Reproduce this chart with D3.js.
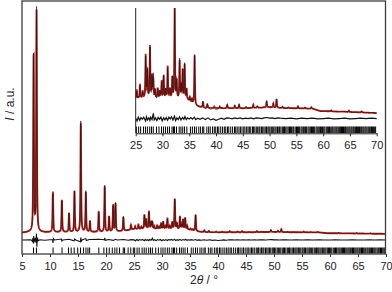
<!DOCTYPE html>
<html>
<head>
<meta charset="utf-8">
<script src="https://cdn.jsdelivr.net/npm/d3@7.9.0/dist/d3.min.js"></script>
<style>
  html, body { margin: 0; padding: 0; background: #fff; }
  svg { display: block; font-family: "Liberation Sans", Arial, sans-serif; }
</style>
</head>
<body>
<svg id="chart" width="392" height="292"></svg>
<script>
// reflections of the fitted pattern: 2θ position and net height above background (a.u.)
const peakPos = [7.07, 7.6, 10.52, 12.12, 13.4, 14.37, 15.5, 16.4, 17.14, 18.7, 19.77, 20.55, 21.27, 21.7, 23.1, 24.46,
  25.2, 25.79, 26.3, 26.86, 27.17, 27.67, 28.04, 28.29, 28.6, 29.1, 29.5, 29.85, 30.22, 30.6, 30.97, 31.4, 31.84,
  32.28, 32.65, 33.2, 33.5, 33.77, 34.14, 34.5, 35.1, 35.5, 36.0,
  37.57, 38.37, 39.68, 40.7, 42.1, 43.5, 44.3, 45.6, 46.96, 47.7, 49.45, 50.7, 51.3, 52.4, 53.5, 55.3, 56.6, 57.8,
  61.5, 64.8, 67.2];
const peakHeight = [79, 98, 18, 14.3, 8.3, 18.2, 48.2, 17.6, 4.8, 9.0, 20.2, 6.6, 11.7, 12.4, 6.3, 2.0,
  1.3, 2.0, 1.0, 6.3, 4.1, 7.6, 3.2, 2.7, 1.2, 1.4, 1.0, 2.4, 3.2, 1.2, 4.6, 1.3, 3.0,
  13.2, 2.5, 5.5, 2.0, 4.1, 5.0, 1.5, 0.6, 0.5, 7.2,
  0.8, 0.55, 0.25, 0.25, 0.45, 0.35, 0.5, 0.15, 0.5, 0.2, 0.85, 0.6, 1.25, 0.2, 0.1, 0.3, 0.15, 0.2,
  0.15, 0.2, 0.15];

// background level read at a few angles
const bgAngle = [5, 6.5, 9, 20, 23, 25, 27, 31, 34.5, 36.5, 38, 45, 50, 52, 58, 59.5, 64, 70];
const bgLevel = [1.0, 1.3, 1.2, 1.3, 1.7, 2.6, 2.7, 2.7, 2.5, 1.5, 1.25, 1.2, 1.35, 1.25, 1.15, 0.8, 0.7, 0.5];

// difference curve (obs - calc)
const diffPoints = [
  [5, 0], [6.6, 0.1], [6.85, -0.6], [6.95, 0.9], [7.03, -1.6], [7.1, 1.7], [7.2, -0.5], [7.35, 0.4],
  [7.5, -1.2], [7.58, 2.8], [7.66, -3.0], [7.75, 1.0], [7.9, -0.3], [8.2, 0.1], [9, -0.1],
  [10.45, 0.2], [10.53, -1.3], [10.6, 0.6], [10.8, 0], [12.05, 0.4], [12.13, -0.5], [12.3, 0],
  [13.4, 0.3], [14.3, -0.4], [14.4, 0.4], [14.6, 0], [15.43, -0.8], [15.5, 1.1], [15.58, -0.6],
  [15.8, 0.1], [16.4, 0.6], [16.5, -0.3], [17, 0.2], [18.7, 0.3], [19.7, 0.1], [19.78, 0.9],
  [19.85, -0.2], [20.5, 0.2], [21.3, -0.2], [21.7, 0.3], [22, 0], [23.1, 0.2], [24, -0.1], [24.5, 0.15],
  [25.0, 0.05], [25.25, -0.35], [25.5, 0.2], [25.75, -0.25], [26.0, 0.15], [26.25, -0.1], [26.5, 0.2],
  [26.85, -0.35], [27.0, 0.25], [27.2, -0.2], [27.45, 0.1], [27.65, -0.3], [27.8, 0.2], [28.05, -0.15],
  [28.3, 0.75], [28.45, -0.2], [28.7, 0.1], [28.95, -0.3], [29.2, 0.15], [29.45, -0.1], [29.7, 0.2],
  [29.95, -0.35], [30.2, 0.1], [30.45, -0.2], [30.7, 0.15], [30.95, -0.25], [31.2, 0.2], [31.45, -0.05],
  [31.7, 0.25], [31.95, -0.2], [32.25, 0.35], [32.45, -0.3], [32.7, 0.1], [32.95, -0.15], [33.2, 0.25],
  [33.45, -0.2], [33.75, 0.15], [34.0, -0.1], [34.2, 0.3], [34.45, -0.15], [34.7, 0.1], [35.0, -0.05],
  [35.3, 0.15], [35.6, -0.1], [35.95, 0.2], [36.2, -0.15], [36.6, 0.05], [37.0, -0.1], [37.5, 0.1],
  [38.0, -0.15], [38.5, 0.1], [39.0, -0.2], [39.5, -0.05], [40.0, -0.25], [40.5, -0.1], [41.0, 0.05],
  [41.5, -0.1], [42.0, 0.1], [42.5, 0.05], [43.0, -0.05], [43.5, 0.1], [44.0, 0.0], [44.5, 0.1],
  [45.0, -0.05], [45.5, 0.05], [46.0, 0.0], [46.5, 0.1], [47.0, -0.05], [47.5, 0.1], [48.0, 0.05],
  [48.5, 0.0], [49.0, 0.1], [49.5, 0.15], [50.0, 0.05], [50.5, 0.1], [51.0, 0.0], [51.5, 0.1],
  [52.0, 0.05], [53.0, 0.0], [54.0, 0.05], [55.0, -0.05], [56.0, 0.05], [57.0, 0.0], [58.0, 0.05],
  [59.0, -0.05], [60.0, 0.0], [61.0, 0.05], [62.0, -0.05], [63.0, 0.0], [64.0, 0.05], [65.0, -0.05],
  [66.0, 0.0], [67.0, 0.05], [68.0, 0.0], [69.0, 0.05], [70.0, 0.0]
];

// allowed reflection positions (tick marks under the pattern)
const reflections = [7.05, 7.58, 10.55, 12.15, 13.3, 13.78, 14.32, 14.95, 15.45, 15.98, 16.42, 16.78, 17.08,
  18.72, 19.62, 20.12, 20.58, 21.12, 21.58, 21.95, 22.42, 23.08, 23.32, 23.95, 24.42, 24.88, 25.12, 25.55,
  25.92, 26.45, 26.82, 27.18, 27.62, 27.95, 28.28, 28.88, 29.35, 29.82, 30.18, 30.55, 30.95, 31.3, 31.78,
  32.05, 32.25, 32.62, 33.12, 33.45, 33.78, 34.12, 34.55, 35.22, 35.58, 35.98, 36.32, 36.78, 37.12, 37.5,
  37.72, 38.28, 38.62, 38.92, 39.35, 39.68, 39.95, 40.28, 40.52, 40.88, 41.22, 41.55, 41.82, 42.15, 42.38,
  42.75, 43.1, 43.45, 43.68, 43.95, 44.28, 44.55, 44.85, 45.18, 45.4, 45.72, 45.98, 46.22, 46.48, 46.82,
  47.02, 47.25, 47.52, 47.78, 48.02, 48.2, 48.48, 48.72, 48.95, 49.18, 49.42, 49.68, 49.88, 50.08, 50.32,
  50.58, 50.78, 51.02, 51.22, 51.48, 51.72, 51.88, 52.12, 52.38, 52.62, 52.78, 53.02, 53.25, 53.48, 53.72,
  53.92, 54.12, 54.35, 54.52, 54.78, 55.02, 55.2, 55.42, 55.62, 55.88, 56.08, 56.3, 56.48, 56.72, 56.92,
  57.18, 57.38, 57.6, 57.82, 58.0, 58.22, 58.42, 58.68, 58.88, 59.08, 59.28, 59.52, 59.72, 59.9, 60.12,
  60.32, 60.58, 60.78, 60.98, 61.18, 61.42, 61.62, 61.8, 62.02, 62.22, 62.42, 62.6, 62.82, 63.02, 63.22,
  63.42, 63.62, 63.8, 64.02, 64.2, 64.42, 64.62, 64.82, 65.0, 65.22, 65.4, 65.62, 65.8, 66.02, 66.22,
  66.4, 66.62, 66.8, 67.02, 67.2, 67.42, 67.6, 67.82, 68.0, 68.2, 68.42, 68.62, 68.8, 69.02, 69.2, 69.42,
  69.62, 69.8];

const mainTicks = [5, 10, 15, 20, 25, 30, 35, 40, 45, 50, 55, 60, 65, 70];
const insetTicks = [25, 30, 35, 40, 45, 50, 55, 60, 65, 70];

const svg = d3.select('#chart');
const red = '#bd2520';
const ink = '#111';

// scales
let x = d3.scaleLinear().domain([5, 70]).range([22, 386]);
let y = d3.scaleLinear().domain([0, 100]).range([235, 10]);
let xi = d3.scaleLinear().domain([25, 70]).range([135.7, 376.7]);
let yi = d3.scaleLinear().domain([0, 15.9]).range([116.5, 8.3]);

let bg = d3.scaleLinear().domain(bgAngle).range(bgLevel).clamp(true);
let diff = d3.scaleLinear().domain(diffPoints.map(d => d[0])).range(diffPoints.map(d => d[1])).clamp(true);

// pseudo-Voigt sum of the reflections on top of the background
const hw = 0.07, eta = 0.7;
function calc(t) {
  let s = bg(t);
  for (let i = 0; i < peakPos.length; i++) {
    const u = (t - peakPos[i]) / hw;
    s += peakHeight[i] * (eta / (1 + u * u) + (1 - eta) * Math.exp(-Math.LN2 * u * u));
  }
  return s;
}

const profile = d3.range(5, 70.0001, 0.02).map(t => {
  const c = calc(t);
  return { t, calc: c, obs: c + diff(t) };
});

const defs = svg.append('defs');
defs.append('clipPath').attr('id', 'clipMain')
  .append('rect').attr('x', 22).attr('y', 1).attr('width', 364).attr('height', 253);
defs.append('clipPath').attr('id', 'clipInset')
  .append('rect').attr('x', 135.7).attr('y', 8).attr('width', 241.5).attr('height', 126);

// ---- main panel ----
let main = svg.append('g').attr('clip-path', 'url(#clipMain)');

main.append('path')
  .datum(profile)
  .attr('d', d3.line().x(d => x(d.t)).y(d => y(d.calc)))
  .attr('fill', 'none').attr('stroke', red).attr('stroke-width', 1.9);

main.append('path')
  .datum(profile)
  .attr('d', d3.line().x(d => x(d.t)).y(d => y(d.obs)))
  .attr('fill', 'none').attr('stroke', ink).attr('stroke-width', 0.6);

main.append('path')
  .datum(diffPoints)
  .attr('d', d3.line().x(d => x(d[0])).y(d => y(d[1] - 2.2)))
  .attr('fill', 'none').attr('stroke', ink).attr('stroke-width', 1.1);

main.selectAll('line.refl')
  .data(reflections)
  .join('line')
  .attr('class', 'refl')
  .attr('x1', d => x(d)).attr('x2', d => x(d))
  .attr('y1', 247.5).attr('y2', 253.5)
  .attr('stroke', '#000').attr('stroke-width', 1);

let xAxis = svg.append('g')
  .attr('transform', 'translate(0,254)')
  .call(d3.axisBottom(x).tickValues(mainTicks).tickSize(3).tickPadding(5).tickSizeOuter(0));
xAxis.select('.domain').remove();
xAxis.selectAll('line').attr('stroke', '#333');
xAxis.selectAll('text').attr('font-size', 11).attr('fill', '#222')
  .style('font-family', '"Liberation Sans", Arial, sans-serif');

svg.append('rect')
  .attr('x', 22).attr('y', 1).attr('width', 363.5).attr('height', 253)
  .attr('fill', 'none').attr('stroke', '#3c3c3c').attr('stroke-width', 1.3);

// ---- inset (25-70°) ----
const insetData = profile.filter(d => d.t >= 25);
const insetDiff = diffPoints.filter(d => d[0] >= 25);
let inset = svg.append('g').attr('clip-path', 'url(#clipInset)');

inset.append('path')
  .datum(insetData)
  .attr('d', d3.line().x(d => xi(d.t)).y(d => yi(d.calc)))
  .attr('fill', 'none').attr('stroke', red).attr('stroke-width', 1.8);

inset.append('path')
  .datum(insetData)
  .attr('d', d3.line().x(d => xi(d.t)).y(d => yi(d.obs)))
  .attr('fill', 'none').attr('stroke', ink).attr('stroke-width', 0.6);

inset.append('path')
  .datum(insetDiff)
  .attr('d', d3.line().x(d => xi(d[0])).y(d => yi(d[1] - 0.3)))
  .attr('fill', 'none').attr('stroke', ink).attr('stroke-width', 1.2);

inset.selectAll('line.refl')
  .data(reflections.filter(d => d >= 25))
  .join('line')
  .attr('class', 'refl')
  .attr('x1', d => xi(d)).attr('x2', d => xi(d))
  .attr('y1', 126.5).attr('y2', 133)
  .attr('stroke', '#000').attr('stroke-width', 1);

let xiAxis = svg.append('g')
  .attr('transform', 'translate(0,133.3)')
  .call(d3.axisBottom(xi).tickValues(insetTicks).tickSize(3).tickPadding(5).tickSizeOuter(0));
xiAxis.select('.domain').attr('stroke', '#222');
xiAxis.selectAll('line').attr('stroke', '#222');
xiAxis.selectAll('text').attr('font-size', 11).attr('fill', '#222')
  .style('font-family', '"Liberation Sans", Arial, sans-serif');

svg.append('line')
  .attr('x1', xi(25)).attr('x2', xi(25))
  .attr('y1', 8).attr('y2', 133.3)
  .attr('stroke', '#222').attr('stroke-width', 1);

// ---- axis titles ----
let xl = svg.append('text')
  .attr('x', 204).attr('y', 284)
  .attr('text-anchor', 'middle').attr('font-size', 12).attr('fill', '#222');
xl.append('tspan').text('2');
xl.append('tspan').attr('font-style', 'italic').text('θ');
xl.append('tspan').text(' / °');

let yl = svg.append('text')
  .attr('transform', 'translate(13.8,104) rotate(-90)')
  .attr('text-anchor', 'middle').attr('font-size', 12).attr('fill', '#222');
yl.append('tspan').attr('font-style', 'italic').text('I');
yl.append('tspan').text(' / a.u.');
</script>
</body>
</html>
